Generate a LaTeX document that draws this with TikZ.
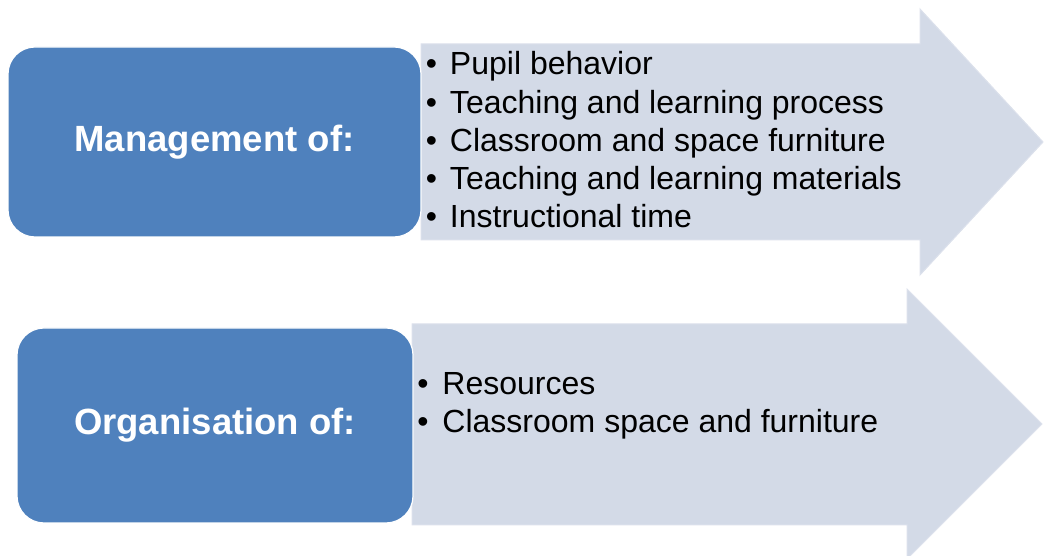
\documentclass[tikz,border=0pt]{standalone}
\usepackage{fontspec}
\setmainfont{Liberation Sans}
\usetikzlibrary{positioning}

\definecolor{boxblue}{HTML}{4F81BD}
\definecolor{arrowfill}{RGB}{211,218,231}

\begin{document}
\begin{tikzpicture}[
		x=1pt, y=1pt,
		title/.style={
			rectangle,
			rounded corners=27pt,
			fill=boxblue,
			draw=white,
			line width=1.2pt,
			text=white,
			align=center,
			font=\fontsize{36.5}{44}\selectfont\bfseries
		},
		itemlist/.style={
			inner sep=0pt,
			align=left,
			font=\fontsize{32}{38.3}\selectfont
		},
		bigarrow/.style={
			fill=arrowfill,
			draw=arrowfill!80!white,
			line width=1pt
		}
		]
		
		\useasboundingbox (0,0) rectangle (1046,556);
		
		% Arrows (behind the boxes)
		\coordinate (mtip) at (1043,414);
		\coordinate (otip) at (1042,132);
		\draw[bigarrow] (421,512) -- (920,512) -- (920,547) -- (mtip)
		-- (920,281) -- (920,316) -- (421,316) -- cycle;
		\draw[bigarrow] (412,232) -- (907,232) -- (907,267) -- (otip)
		-- (907,-3) -- (907,31) -- (412,31) -- cycle;
		
		% Nodes
		\node[title, minimum width=413pt, minimum height=190pt] (mgmt) at (214.5,414) {Management of:};
		
		\node[itemlist, below right=5pt and 4pt of mgmt.north east] (mgmtlist)
		{\textbullet\hspace{13pt}Pupil behavior\\
			\textbullet\hspace{13pt}Teaching and learning process\\
			\textbullet\hspace{13pt}Classroom and space furniture\\
			\textbullet\hspace{13pt}Teaching and learning materials\\
			\textbullet\hspace{13pt}Instructional time};
		
		\node[title, minimum width=396pt, minimum height=195pt] (org) at (215,130.5) {Organisation of:};
		
		\node[itemlist, below right=45pt and 3.5pt of org.north east] (orglist)
		{\textbullet\hspace{14pt}Resources\\
			\textbullet\hspace{14pt}Classroom space and furniture};
		
	\end{tikzpicture}
\end{document}
